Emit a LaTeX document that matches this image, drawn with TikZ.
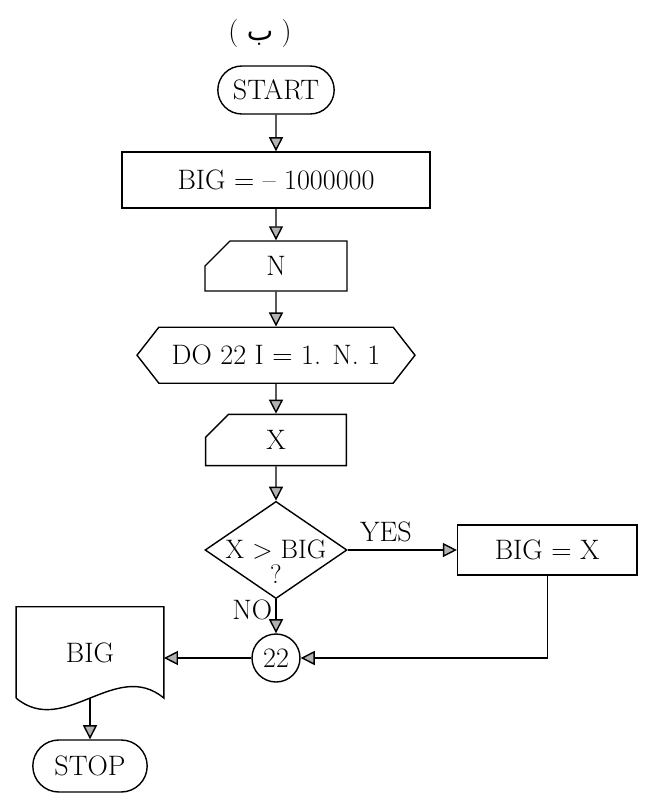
\documentclass[tikz,border=0pt]{standalone}
\usepackage{fontspec}
\newfontfamily\arabicfont[Script=Arabic]{DejaVu Sans}
\TeXXeTstate=1
\usetikzlibrary{shapes.geometric,shapes.misc,shapes.symbols,arrows.meta}

\begin{document}
\begin{tikzpicture}[font=\fontsize{20}{24}\selectfont]
        \tikzset{
          box/.style={draw,line width=1pt,inner sep=2pt},
          term/.style={box,rounded rectangle,minimum width=#1,minimum height=1.2cm},
          proc/.style={box,rectangle,minimum width=#1,minimum height=1.4cm},
          card/.style args={#1/#2/#3}{box,chamfered rectangle,chamfered rectangle corners=north west,
            chamfered rectangle xsep=#2,chamfered rectangle ysep=#3,minimum width=#1,minimum height=1.2cm},
          flowline/.style={line width=1pt,-{Triangle[width=10pt,length=10pt,fill=gray!60]}},
        }
        \useasboundingbox (0,0) rectangle (16.1,-19.95);
        %TITLE
        \node (title) at (6.5,-0.83) {( {\arabicfont\beginR ب\endR} )};
        %MAIN COLUMN
        \node[term=3.05cm] (start) at (6.9,-2.25) {START};
        \node[proc=7.7cm] (init) at (6.9,-4.5) {BIG = -- 1000000};
        \node[card=3.55cm/0.38cm/0.52cm] (readn) at (6.9,-6.65) {N};
        \node[box,signal,signal to=east and west,signal pointer angle=104,
              minimum width=6.95cm,minimum height=1.4cm] (loop) at (6.9,-8.88) {DO 22 I = 1. N. 1};
        \node[card=3.52cm/0.26cm/0.38cm,minimum height=1.28cm] (readx) at (6.9,-11) {X};
        \node[box,diamond,minimum width=3.55cm,minimum height=2.43cm,inner sep=0pt,
              label={[align=center,inner sep=0pt,yshift=-0.3cm,font=\fontsize{19}{22}\selectfont]center:X > BIG\\[-4pt]?}]
              (test) at (6.9,-13.75) {};
        \node[proc=4.48cm,minimum height=1.25cm] (setbig) at (13.68,-13.75) {BIG = X};
        \node[box,circle,minimum size=1.2cm,inner sep=0pt] (c22) at (6.9,-16.45) {22};
        %OUTPUT DOCUMENT
        \node[minimum width=3.68cm,minimum height=2.27cm] (out) at (2.25,-16.31) {BIG};
        \draw[line width=1pt] (out.south west) -- (out.north west) -- (out.north east) -- (out.south east)
             .. controls +(-1.2,1.0) and +(1.2,-1.0) .. (out.south west);
        \node[term=3cm,minimum height=1.3cm] (stop) at (2.25,-19.15) {STOP};
        %CONNECTORS
        \draw[flowline] (start) -- (init);
        \draw[flowline] (init) -- (readn);
        \draw[flowline] (readn) -- (loop);
        \draw[flowline] (loop) -- (readx);
        \draw[flowline] (readx) -- (test);
        \draw[flowline] (test.east) -- (setbig.west) node[pos=0.35,above=2pt] {YES};
        \draw[flowline] (test.south) -- (c22.north) node[pos=0.3,left=-1pt] {NO};
        \draw[flowline] (setbig.south) |- (c22.east);
        \draw[flowline] (c22.west) -- (c22.west -| out.east);
        \draw[flowline] (out.south) -- (stop.north);
\end{tikzpicture}
\end{document}
